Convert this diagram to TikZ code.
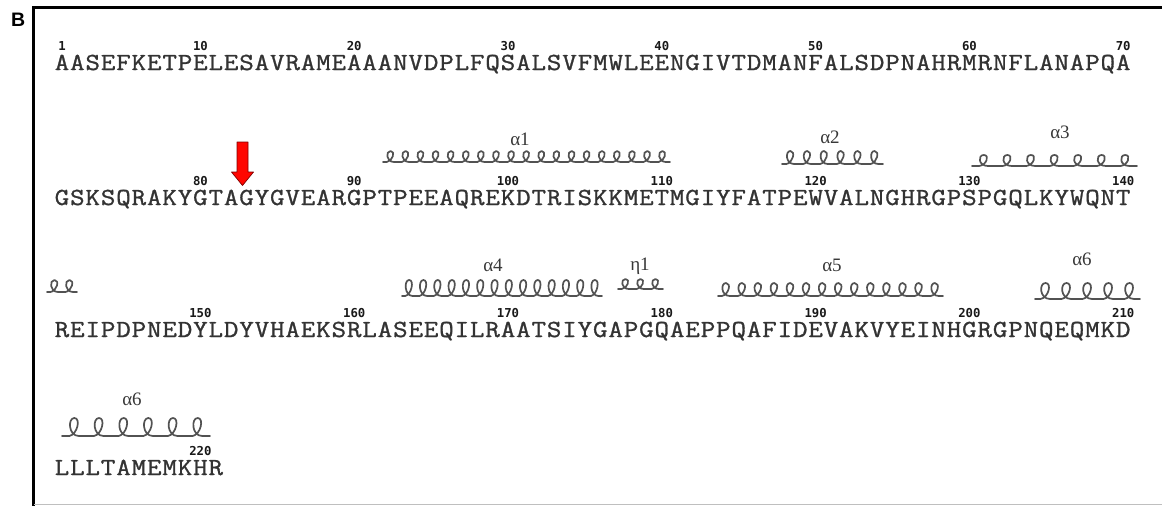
\documentclass[tikz,border=0pt]{standalone}
\usepackage{fontspec}
\setmainfont{Liberation Serif}
\newfontfamily\seqfont[FakeBold=1]{Latin Modern Mono}
\newfontfamily\numfont{DejaVu Sans Mono}
\newfontfamily\panelfont{Liberation Sans}

% one row of residues, first residue number #1, baseline #2
\newcommand\resrow[3]{%
  \foreach \c [count=\k from 0] in {#3} {%
    \pgfmathtruncatemacro\rid{#1+\k}%
    \node[res] (r\rid) at ({62+15.38*\k},#2) {\scalebox{1.15}[1]{\c}};
  }}

% helical coil: from x #1 to x #2, #3 turns, loop top #4, base line #5,
% loop half width #6; each turn is a cursive loop rising from the base line
\newcommand\drawcoil[6]{%
  \pgfmathsetmacro\coilpitch{(#2-#1)/#3}%
  \draw[coil] (#1,#5) foreach \i in {1,...,#3} {
    -- ({#1+(\i-0.5)*\coilpitch-1.0*#6},#5)
    .. controls ({#1+(\i-0.5)*\coilpitch+0.6*#6},{#5-0.08*(#5-#4)})
            and ({#1+(\i-0.5)*\coilpitch+1.35*#6},#4)
    .. ({#1+(\i-0.5)*\coilpitch},#4)
    .. controls ({#1+(\i-0.5)*\coilpitch-1.35*#6},#4)
            and ({#1+(\i-0.5)*\coilpitch-1.2*#6},#5)
    .. ({#1+(\i-0.5)*\coilpitch+0.9*#6},#5)
  } -- (#2,#5);
}

\begin{document}
\begin{tikzpicture}[x=1pt,y=-1pt,
  res/.style={anchor=base, inner sep=0pt,
    font=\seqfont\fontsize{24.5}{24.5}\selectfont, text=black!80},
  num/.style={anchor=base, inner sep=0pt,
    font=\numfont\bfseries\fontsize{12.3}{12.3}\selectfont, text=black!90},
  hlab/.style={anchor=base, inner sep=0pt,
    font=\fontsize{19}{19}\selectfont, text=black!78},
  coil/.style={line width=1.7pt, draw=black!68, line join=round, line cap=round},
  frame/.style={line width=3pt, draw=black},
]
\useasboundingbox (0,0) rectangle (1162,506);
\fill[white] (0,0) rectangle (1162,506);

% panel frame and letter
\draw[frame] (1162,7) -- (33,7) -- (33,508);
\draw[black!25, line width=0.8pt] (34,504) -- (1162,504);
\node[anchor=base west, inner sep=0pt,
  font=\panelfont\bfseries\fontsize{19.5}{19.5}\selectfont] (panel) at (11,27) {B};

% sequence
\resrow{1}{70}{A,A,S,E,F,K,E,T,P,E,L,E,S,A,V,R,A,M,E,A,A,A,N,V,D,P,L,F,Q,S,A,L,S,V,F,M,W,L,E,E,N,G,I,V,T,D,M,A,N,F,A,L,S,D,P,N,A,H,R,M,R,N,F,L,A,N,A,P,Q,A}
\resrow{71}{205}{G,S,K,S,Q,R,A,K,Y,G,T,A,G,Y,G,V,E,A,R,G,P,T,P,E,E,A,Q,R,E,K,D,T,R,I,S,K,K,M,E,T,M,G,I,Y,F,A,T,P,E,W,V,A,L,N,G,H,R,G,P,S,P,G,Q,L,K,Y,W,Q,N,T}
\resrow{141}{337}{R,E,I,P,D,P,N,E,D,Y,L,D,Y,V,H,A,E,K,S,R,L,A,S,E,E,Q,I,L,R,A,A,T,S,I,Y,G,A,P,G,Q,A,E,P,P,Q,A,F,I,D,E,V,A,K,V,Y,E,I,N,H,G,R,G,P,N,Q,E,Q,M,K,D}
\resrow{211}{475}{L,L,L,T,A,M,E,M,K,H,R}

% residue numbering
\node[num] (n1) at ([yshift=20pt]r1.base) {1};
\foreach \n in {10,20,...,220} {
  \node[num] (n\n) at ([yshift=20pt]r\n.base) {\n};
}

% secondary structure: helices
\drawcoil{383}{670}{19}{151}{162}{3.8}
\node[hlab] (a1) at (520,145) {α1};
\drawcoil{782}{883}{6}{151}{164}{4}
\node[hlab] (a2) at (830,143) {α2};
\drawcoil{972}{1137}{7}{155}{166}{4.6}
\node[hlab] (a3) at (1060,138) {α3};

\drawcoil{47}{77}{2}{280}{292}{4}
\drawcoil{402}{602}{14}{280}{296}{4}
\node[hlab] (a4) at (493,271) {α4};
\drawcoil{618}{663}{3}{279}{289}{3.8}
\node[hlab] (e1) at (640,270) {η1};
\drawcoil{718}{943}{14}{283}{296}{4.2}
\node[hlab] (a5) at (832,271) {α5};
\drawcoil{1035}{1140}{5}{283}{299}{5}
\node[hlab] (a6) at (1082,265) {α6};

\drawcoil{62}{210}{6}{418}{436}{5}
\node[hlab] (a6b) at (132,405) {α6};

% cleavage site marker
\draw[fill=red!95!orange, draw=red!50!black, line width=0.7pt, line join=round]
  (237,142) -- (248,142) -- (248,172) -- (253.5,172) -- (242.5,185.5)
  -- (231.5,172) -- (237,172) -- cycle;
\end{tikzpicture}
\end{document}
